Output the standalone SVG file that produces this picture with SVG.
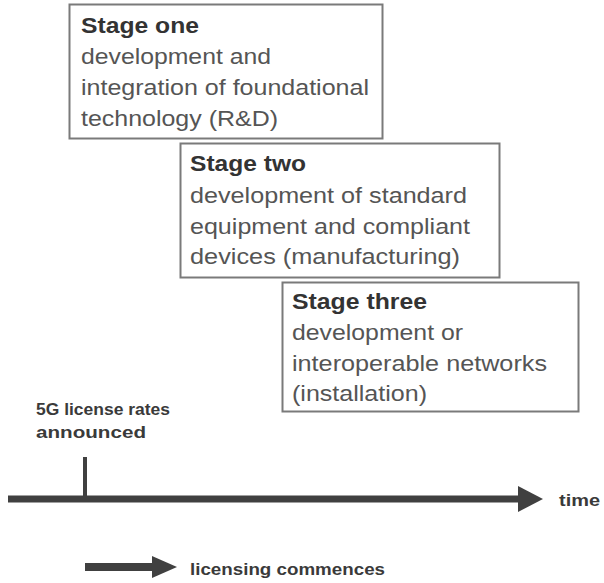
<svg xmlns="http://www.w3.org/2000/svg" width="604" height="583" viewBox="0 0 604 583">
<style>
.box{fill:#fff;stroke:#7a7a7a;stroke-width:2}
.t{font-family:"Liberation Sans",Arial,sans-serif;font-weight:bold;font-size:22px;fill:#333}
.b{font-family:"Liberation Sans",Arial,sans-serif;font-size:22px;fill:#555}
.l{font-family:"Liberation Sans",Arial,sans-serif;font-weight:bold;font-size:17px;fill:#3a3a3a}
.ax{stroke:#404040;fill:none}
.hd{fill:#404040}
</style>
<rect width="604" height="583" fill="#fff"/>
<g id="stage1">
<rect class="box" x="69.5" y="4.5" width="313" height="134"/>
<text class="t" x="81" y="33" textLength="118" lengthAdjust="spacingAndGlyphs">Stage one</text>
<text class="b" x="81" y="64" textLength="190" lengthAdjust="spacingAndGlyphs">development and</text>
<text class="b" x="81" y="95" textLength="288" lengthAdjust="spacingAndGlyphs">integration of foundational</text>
<text class="b" x="81" y="126" textLength="197" lengthAdjust="spacingAndGlyphs">technology (R&amp;D)</text>
</g>
<g id="stage2">
<rect class="box" x="180.5" y="143.5" width="319" height="134"/>
<text class="t" x="190" y="171" textLength="116" lengthAdjust="spacingAndGlyphs">Stage two</text>
<text class="b" x="190" y="203" textLength="277" lengthAdjust="spacingAndGlyphs">development of standard</text>
<text class="b" x="190" y="234" textLength="280" lengthAdjust="spacingAndGlyphs">equipment and compliant</text>
<text class="b" x="190" y="264" textLength="270" lengthAdjust="spacingAndGlyphs">devices (manufacturing)</text>
</g>
<g id="stage3">
<rect class="box" x="282.5" y="282.5" width="296" height="129"/>
<text class="t" x="292" y="309" textLength="135" lengthAdjust="spacingAndGlyphs">Stage three</text>
<text class="b" x="292" y="340" textLength="171" lengthAdjust="spacingAndGlyphs">development or</text>
<text class="b" x="292" y="371" textLength="255" lengthAdjust="spacingAndGlyphs">interoperable networks</text>
<text class="b" x="292" y="401" textLength="135" lengthAdjust="spacingAndGlyphs">(installation)</text>
</g>
<g id="announce">
<text class="l" x="36" y="415" textLength="134" lengthAdjust="spacingAndGlyphs">5G license rates</text>
<text class="l" x="36" y="438" textLength="110" lengthAdjust="spacingAndGlyphs">announced</text>
</g>
<g id="time-label">
<text class="l" x="559" y="506" textLength="41" lengthAdjust="spacingAndGlyphs">time</text>
</g>
<g id="licensing">
<text class="l" x="190" y="575" textLength="195" lengthAdjust="spacingAndGlyphs">licensing commences</text>
</g>
<g id="connectors">
<line class="ax" x1="8" y1="499" x2="521" y2="499" stroke-width="7"/>
<polygon class="hd" points="518,486 543,499 518,512"/>
<line class="ax" x1="85" y1="457" x2="85" y2="499" stroke-width="4"/>
<line class="ax" x1="85" y1="567" x2="154" y2="567" stroke-width="8"/>
<polygon class="hd" points="152,556 177,567 152,578"/>
</g>
</svg>
